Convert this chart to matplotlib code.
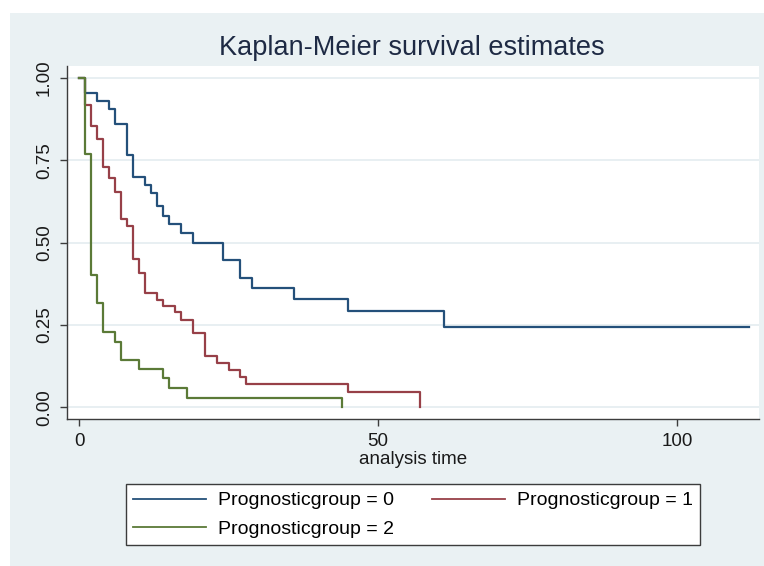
import numpy as np
import matplotlib
matplotlib.use('Agg')
import matplotlib.pyplot as plt
from matplotlib.patches import Rectangle

plt.rcParams['font.family'] = ['Liberation Sans', 'DejaVu Sans']

# Kaplan-Meier step values
t_g0 = [0, 1, 3, 5, 6, 8, 9, 11, 12, 13, 14, 15, 17, 19, 24, 27, 29, 36, 45, 61, 112]
s_g0 = [1.0, 0.953, 0.930, 0.905, 0.860, 0.767, 0.698, 0.674, 0.650, 0.610, 0.580,
        0.555, 0.530, 0.500, 0.447, 0.391, 0.361, 0.328, 0.292, 0.244, 0.244]

t_g1 = [0, 1, 2, 3, 4, 5, 6, 7, 8, 9, 10, 11, 13, 14, 16, 17, 19, 21, 23, 25, 27, 28, 45, 57]
s_g1 = [1.0, 0.918, 0.854, 0.815, 0.730, 0.695, 0.652, 0.570, 0.551, 0.449, 0.406, 0.348,
        0.325, 0.307, 0.288, 0.266, 0.224, 0.156, 0.135, 0.112, 0.092, 0.069, 0.047, 0.0]

t_g2 = [0, 1, 2, 3, 4, 6, 7, 10, 14, 15, 18, 44]
s_g2 = [1.0, 0.769, 0.401, 0.315, 0.229, 0.199, 0.143, 0.115, 0.087, 0.057, 0.029, 0.0]

labels = ['Prognosticgroup = 0', 'Prognosticgroup = 1', 'Prognosticgroup = 2']
colors = ['#24507a', '#974048', '#5b7a37']
yticks = [0.0, 0.25, 0.5, 0.75, 1.0]
xticks = [0, 50, 100]

W, H = 764, 566
fig = plt.figure(figsize=(W / 100, H / 100), dpi=100, facecolor='white')

# fondo tipo Stata (region del grafico)
bg = '#eaf1f3'
fig.patches.append(Rectangle((10 / W, 0), 1 - 10 / W, 1 - 13 / H, transform=fig.transFigure,
                             facecolor=bg, edgecolor='none', zorder=-10))

ax = fig.add_axes([66.7 / W, 1 - 419 / H, (759 - 66.7) / W, (419 - 66) / H])
ax.set_facecolor('white')

for t, s, c, lab in zip([t_g0, t_g1, t_g2], [s_g0, s_g1, s_g2], colors, labels):
    ax.plot(t, s, drawstyle='steps-post', color=c, lw=1.6, label=lab)

ax.set_xlim(-2.06, 113.7)
ax.set_ylim(-0.036, 1.036)
ax.set_xticks(xticks)
ax.set_yticks(yticks)
ax.set_yticklabels(['%.2f' % v for v in yticks], rotation=90, va='center')
ax.grid(axis='y', color='#e6eef1', lw=1.3)
ax.set_axisbelow(True)

for side in ['top', 'right']:
    ax.spines[side].set_visible(False)
for side in ['left', 'bottom']:
    ax.spines[side].set_color('#3c3c3c')
    ax.spines[side].set_linewidth(1.0)
ax.tick_params(direction='out', length=5, width=1, color='#3c3c3c',
               labelsize=13.5, labelcolor='#1a1a1a', pad=5)

ax.set_xlabel('analysis time', fontsize=13.5, color='#1a1a1a', labelpad=1)

fig.text(412 / W, 1 - 48 / H, 'Kaplan-Meier survival estimates', ha='center', va='center',
         fontsize=19.5, color='#1e2a44')

h, l = ax.get_legend_handles_labels()
order = [0, 2, 1]
leg = fig.legend([h[i] for i in order], [l[i] for i in order], ncol=2,
                 bbox_to_anchor=(126 / W, 1 - 545 / H, 574 / W, 63 / H),
                 loc='lower left', mode='expand', fontsize=14, handlelength=3.75,
                 handletextpad=0.6, labelspacing=0.55, borderpad=0.38, borderaxespad=0,
                 fancybox=False, framealpha=1)
leg.get_frame().set_edgecolor('#3c3c3c')
leg.get_frame().set_linewidth(1.0)
for line in leg.get_lines():
    line.set_linewidth(1.3)

fig.savefig('out.png', dpi=100, facecolor='white')
